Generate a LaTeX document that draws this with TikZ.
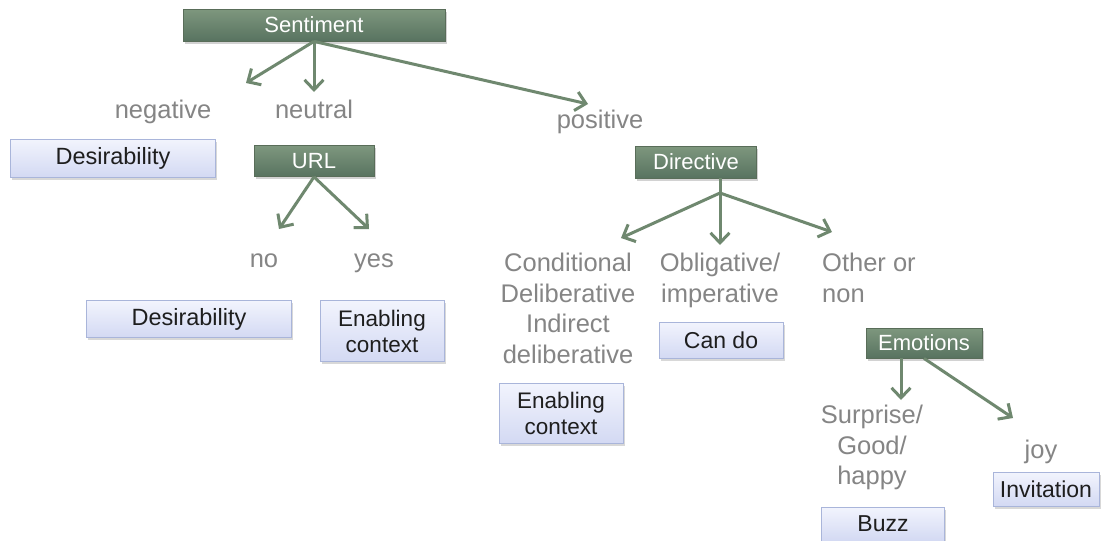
\documentclass[tikz,border=0pt]{standalone}
\usepackage{fontspec}
\setmainfont{Liberation Sans}
\usetikzlibrary{arrows.meta,shadows}
\definecolor{gtop}{HTML}{7E977E}
\definecolor{gbot}{HTML}{587360}
\definecolor{gline}{HTML}{6F886F}
\definecolor{btop}{HTML}{F2F4FD}
\definecolor{bbot}{HTML}{D3D9F3}
\definecolor{bline}{HTML}{A9B5DA}
\definecolor{lbl}{HTML}{858585}
\definecolor{dtext}{HTML}{1E1E1E}
\tikzset{
  gbox/.style={draw=gline!80!black, line width=0.8pt, top color=gtop, bottom color=gbot,
    text=white, font=\fontsize{22}{26}\selectfont, inner sep=0pt,
    drop shadow={opacity=0.35, shadow xshift=1.5pt, shadow yshift=-2.5pt}},
  bbox/.style={draw=bline, line width=0.8pt, top color=btop, bottom color=bbot,
    text=dtext, font=\fontsize{23}{26}\selectfont, inner sep=0pt, align=center,
    drop shadow={opacity=0.3, shadow xshift=1.5pt, shadow yshift=-2.5pt}},
  lab/.style={text=lbl, font=\fontsize{25.5}{30.5}\selectfont, inner sep=0pt, align=center},
  arr/.style={draw=gline, line width=3pt, -{Straight Barb[length=10pt,width=19pt,line width=3pt]}}
}
\begin{document}
\begin{tikzpicture}[x=1pt,y=-1pt]
\useasboundingbox[fill=white] (0,0) rectangle (1104,541);
% green decision boxes
\node[gbox, minimum width=262pt, minimum height=32pt] (sent) at (314,25) {Sentiment};
\node[gbox, minimum width=120pt, minimum height=31pt] (url) at (314,161) {URL};
\node[gbox, minimum width=121pt, minimum height=32pt] (dir) at (696,162) {Directive};
\node[gbox, minimum width=116pt, minimum height=30pt] (emo) at (924,343) {Emotions};
% labels
\node[lab, anchor=base] (neg) at (163,118) {negative};
\node[lab, anchor=base] (neu) at (314,118) {neutral};
\node[lab, anchor=base] (pos) at (600,128) {positive};
\node[lab, anchor=base] (no) at (264,267) {no};
\node[lab, anchor=base] (yes) at (374,267) {yes};
\node[lab, anchor=north] (cond) at (568,253) {Conditional\\Deliberative\\Indirect\\deliberative};
\node[lab, anchor=north] (obl) at (720,253) {Obligative/\\imperative};
\node[lab, anchor=north west, align=left] (oth) at (822,253) {Other or\\non};
\node[lab, anchor=north] (surp) at (872,405) {Surprise/\\Good/\\happy};
\node[lab, anchor=base] (joy) at (1041,458) {joy};
% blue outcome boxes
\node[bbox, font=\fontsize{23.5}{26}\selectfont, minimum width=205pt, minimum height=38pt] (des1) at (113,158) {Desirability};
\node[bbox, font=\fontsize{23.5}{26}\selectfont, minimum width=205pt, minimum height=37pt] (des2) at (189,319) {Desirability};
\node[bbox, font=\fontsize{22.5}{26}\selectfont, minimum width=124pt, minimum height=61pt] (en1) at (382,331) {Enabling\\context};
\node[bbox, minimum width=124pt, minimum height=36pt] (can) at (721,340) {Can do};
\node[bbox, font=\fontsize{22.5}{26}\selectfont, minimum width=124pt, minimum height=60pt] (en2) at (561,413) {Enabling\\context};
\node[bbox, minimum width=106pt, minimum height=34pt] (inv) at (1046,489) {Invitation};
\node[bbox, minimum width=123pt, minimum height=34pt] (buzz) at (883,524) {Buzz};
% arrow ends
\coordinate (dsrc) at (720,193);
\coordinate (tneg) at (246,83);
\coordinate (tneu) at (314,92);
\coordinate (tpos) at (588,104);
\coordinate (tno) at (279,229);
\coordinate (tyes) at (369,229);
\coordinate (tcond) at (621,238);
\coordinate (tobl) at (720,245);
\coordinate (toth) at (832,232);
\coordinate (tsurp) at (901,400);
\coordinate (tjoy) at (1013,418);
% connectors
\draw[arr] (sent.south) -- (tneg);
\draw[arr] (sent.south) -- (tneu);
\draw[arr] (sent.south) -- (tpos);
\draw[arr] (url.south) -- (tno);
\draw[arr] (url.south) -- (tyes);
\draw[line width=3pt, gline] (dir.south -| dsrc) -- (dsrc);
\draw[arr] (dsrc) -- (tcond);
\draw[arr] (dsrc) -- (tobl);
\draw[arr] (dsrc) -- (toth);
\draw[arr] (emo.south -| tsurp) -- (tsurp);
\draw[arr] (emo.south) -- (tjoy);
\end{tikzpicture}
\end{document}
